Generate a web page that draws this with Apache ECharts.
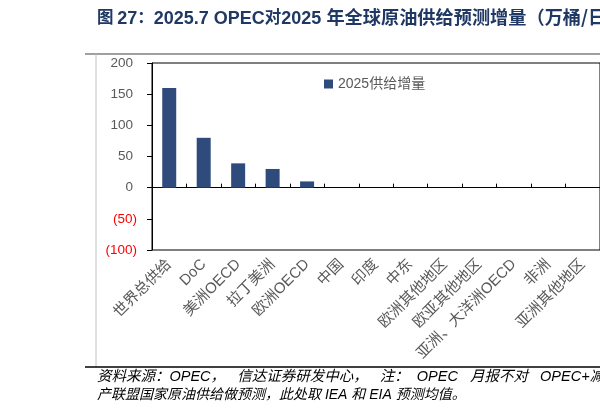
<!DOCTYPE html>
<html>
<head>
<meta charset="utf-8" />
<script src="https://cdn.jsdelivr.net/npm/echarts@6/dist/echarts.min.js"></script>
<title>2025供给增量</title>
<style type="text/css">
* {margin:0; padding:0;}
body {background:#fff;}
#chart {width:600px; height:418px;}
</style>
</head>
<body>
<div id="chart"></div>
<script>
// 数据
var categories = ['世界总供给', 'DoC', '美洲OECD', '拉丁美洲', '欧洲OECD', '中国', '印度', '中东',
	'欧洲其他地区', '欧亚其他地区', '亚洲、大洋洲OECD', '非洲', '亚洲其他地区'];
var supplyGrowth = [160, 80, 39, 30, 10, 0, 0, 0, 0, 0, 0, 0, 0];
var seriesName = '2025供给增量';
// 标题：c 为中文段，l 为西文段
var titleText = '{c|图 }{l|27}{c|：}{l|2025.7 OPEC}{c|对}{l|2025 }{w|年全球原油供给预测增量（万桶/日）}';
var sourceLines = [
	'资料来源：OPEC，   信达证券研发中心，   注：  OPEC   月报不对   OPEC+减产',
	'产联盟国家原油供给做预测，此处取 IEA 和 EIA 预测均值。'
];

var cjk = '"Liberation Sans", "Noto Sans CJK SC", sans-serif';
var grey = '#595959';
var navy = '#1f3864';

var chart = echarts.init(document.getElementById('chart'));
chart.setOption({
	animation: false,
	textStyle: {fontFamily: cjk},
	grid: {
		left: 152, top: 63, right: -7, bottom: 168,
		show: true, borderColor: '#000', borderWidth: 1
	},
	legend: {
		left: 319, top: 72,
		itemWidth: 9, itemHeight: 9,
		icon: 'rect',
		textStyle: {fontSize: 14, color: grey, fontFamily: cjk},
		data: [seriesName]
	},
	xAxis: [
		{
			// 底部标签
			type: 'category',
			data: categories,
			position: 'bottom',
			axisLine: {show: false, onZero: false},
			axisTick: {show: false},
			axisLabel: {rotate: 45, margin: 12, fontSize: 15, color: grey, interval: 0}
		},
		{
			// 0 轴线
			type: 'category',
			data: categories,
			position: 'bottom',
			axisLine: {show: true, onZero: true, lineStyle: {color: '#000', width: 1}},
			axisTick: {show: true, inside: true, length: 4, interval: 0, lineStyle: {color: '#000'}},
			axisLabel: {show: false}
		}
	],
	yAxis: {
		type: 'value',
		min: -100, max: 200, interval: 50,
		axisLine: {show: true, lineStyle: {color: '#000'}},
		axisTick: {show: true, length: 5, lineStyle: {color: '#000'}},
		splitLine: {show: false},
		axisLabel: {
			margin: 15,
			formatter: function (v) {
				return v < 0 ? '{neg|(' + (-v) + ')}' : '{pos|' + v + '}';
			},
			rich: {
				neg: {color: '#FF0000', fontSize: 13.5},
				pos: {color: grey, fontSize: 13.5, padding: [0, 4, 0, 0]}
			}
		}
	},
	series: [{
		name: seriesName,
		type: 'bar',
		xAxisIndex: 0,
		barWidth: 14,
		itemStyle: {color: '#2f4b7c'},
		data: supplyGrowth
	}],
	graphic: [
		{type: 'text', left: 97, top: 8,
			style: {
				text: titleText, fill: navy, fontFamily: cjk,
				rich: {
					c: {fontSize: 16.5, fontWeight: 'bold', fill: navy, fontFamily: '"Noto Sans CJK SC"',
						padding: [0, 0, 3, 0]},
					w: {fontSize: 18.2, fontWeight: 'bold', fill: navy, fontFamily: '"Noto Sans CJK SC"',
						padding: [0, 0, 3, 0]},
					l: {fontSize: 18, fontWeight: 'bold', fill: navy, fontFamily: '"Liberation Sans"'}
				}
			}},
		{type: 'line', shape: {x1: 85, y1: 54, x2: 600, y2: 54},
			style: {stroke: '#808080', lineWidth: 1.5}},
		{type: 'line', shape: {x1: 96, y1: 54, x2: 96, y2: 367},
			style: {stroke: '#c0c0c0', lineWidth: 1}},
		{type: 'line', shape: {x1: 85, y1: 367, x2: 600, y2: 367},
			style: {stroke: '#000', lineWidth: 1.5}},
		{type: 'text', left: 97, top: 370,
			style: {text: sourceLines[0], fontSize: 14.5, fontStyle: 'italic', fill: '#000', fontFamily: cjk}},
		{type: 'text', left: 97, top: 388,
			style: {text: sourceLines[1], fontSize: 14, fontStyle: 'italic', fill: '#000', fontFamily: cjk}}
	]
});
</script>
</body>
</html>
